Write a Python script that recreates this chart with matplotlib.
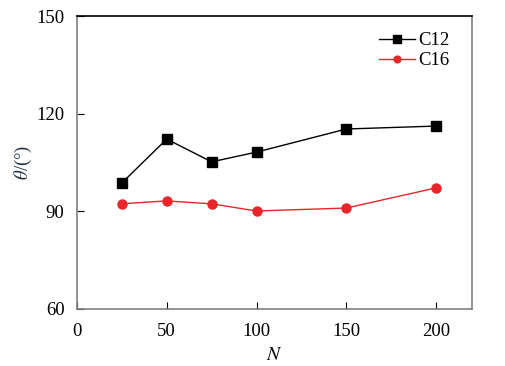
import numpy as np
import matplotlib.pyplot as plt

plt.rcParams['font.family'] = ['Liberation Serif', 'DejaVu Serif']
plt.rcParams['mathtext.fontset'] = 'stix'

n = [25, 50, 75, 100, 150, 200]
c12 = [98.7, 112.2, 105.2, 108.2, 115.3, 116.2]
c16 = [92.3, 93.2, 92.3, 90.1, 91.0, 97.2]

fig = plt.figure(figsize=(5.06, 3.66), dpi=100)
ax = fig.add_axes([0.152, 0.156, 0.781, 0.80])

ax.plot(n, c12, color='black', marker='s', markersize=7, lw=1, label='C12')
ax.plot(n, c16, color='#e8262a', marker='o', markersize=6.5, lw=1, label='C16')

ax.set_xlim(0, 220)
ax.set_ylim(60, 150)
ax.set_xticks([0, 50, 100, 150, 200])
ax.set_yticks([60, 90, 120, 150])
ax.tick_params(direction='in', labelsize=13.5, length=5, pad=9, top=False, right=False)
ax.tick_params(axis='x', pad=10)
for s in ax.spines.values():
    s.set_color('#808080')
    s.set_linewidth(1.2)
ax.spines['top'].set_color('black')

ax.set_xlabel('$N$', fontsize=14, labelpad=5)
ax.set_ylabel(r'$\theta$/(°)', fontsize=13.5, color='#203040', labelpad=2)

ax.legend(loc='upper right', frameon=False, fontsize=13.5, handlelength=1.9,
          handletextpad=0.15, borderaxespad=0.3, labelspacing=0.15, markerscale=0.75,
          bbox_to_anchor=(0.975, 0.99))

fig.savefig('out.png', dpi=100)
